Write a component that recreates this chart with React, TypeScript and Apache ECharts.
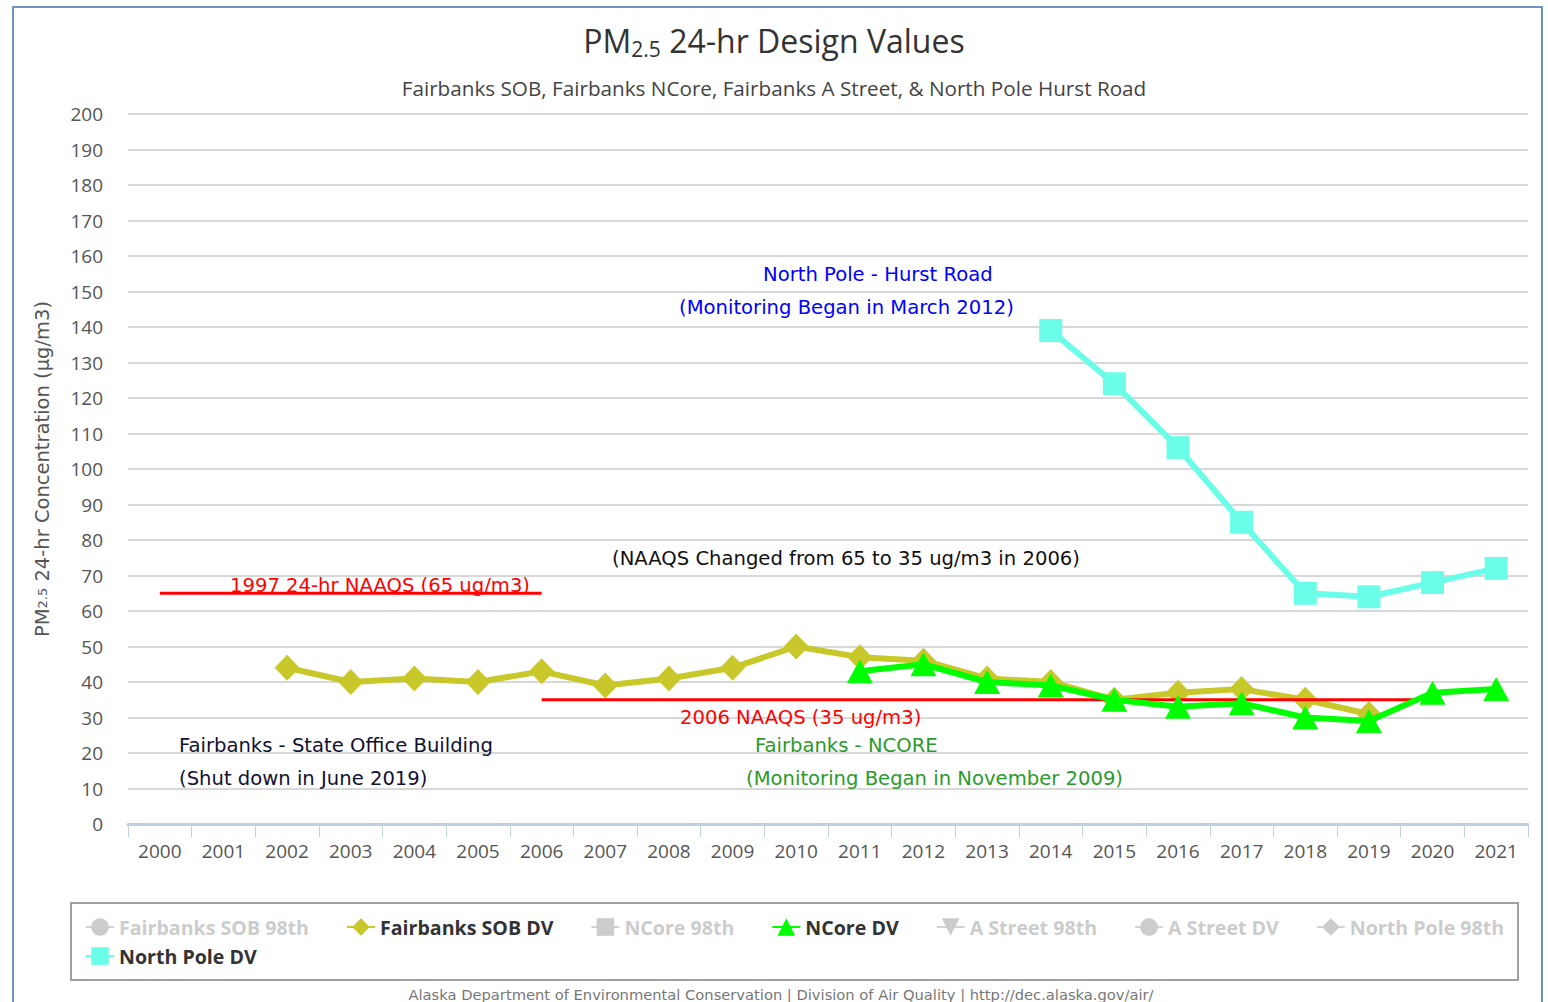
import React, { useEffect, useRef } from "react";
import * as echarts from "echarts";

const years = ["2000","2001","2002","2003","2004","2005","2006","2007","2008","2009","2010","2011","2012","2013","2014","2015","2016","2017","2018","2019","2020","2021"];
const yTicks = [0, 200, 10];

const sobDV = [null, null, 44, 40, 41, 40, 43, 39, 41, 44, 50, 47, 46, 41, 40, 35, 37, 38, 35, 31, null, null];
const ncoreDV = [null, null, null, null, null, null, null, null, null, null, null, 43, 45, 40, 39, 35, 33, 34, 30, 29, 37, 38];
const northPoleDV = [null, null, null, null, null, null, null, null, null, null, null, null, null, null, 139, 124, 106, 85, 65, 64, 68, 72];
const naaqs1997 = [65, 65, 65, 65, 65, 65, 65, null, null, null, null, null, null, null, null, null, null, null, null, null, null, null];
const naaqs2006 = [null, null, null, null, null, null, 35, 35, 35, 35, 35, 35, 35, 35, 35, 35, 35, 35, 35, 35, 35, null];

const legendRow1 = ["Fairbanks SOB 98th", "Fairbanks SOB DV", "NCore 98th", "NCore DV", "A Street 98th", "A Street DV", "North Pole 98th"];
const legendRow2 = ["North Pole DV"];

const FONT = "'Open Sans', sans-serif";
const AFONT = "'DejaVu Sans', sans-serif";

export default function App() {
  const ref = useRef<HTMLDivElement>(null);
  useEffect(() => {
    if (!ref.current) return;
    const chart = echarts.init(ref.current, null, { renderer: "svg" });
    const hidden = (name: string, symbol: string, color: string) => ({
      name, type: "line", data: [], symbol, symbolSize: 18, color,
      lineStyle: { width: 4, color },
    });
    const ann = (x: number, yy: number, text: string, fill: string) => ({
      type: "text", x, y: yy, z: 10,
      style: { text, fill, font: `19.6px ${AFONT}`, textVerticalAlign: "middle" },
    });
    const option: any = {
      animation: false,
      backgroundColor: "#ffffff",
      textStyle: { fontFamily: FONT },
      title: [
        {
          text: "PM{sub|2.5} 24-hr Design Values",
          left: "center", top: 17,
          textStyle: {
            fontFamily: FONT, fontSize: 32, fontWeight: "normal", color: "#333333",
            rich: { sub: { fontFamily: FONT, fontSize: 21, color: "#333333", padding: [16, 0, 0, 0] } },
          },
        },
        {
          text: "Fairbanks SOB, Fairbanks NCore, Fairbanks A Street, & North Pole Hurst Road",
          left: "center", top: 72,
          textStyle: { fontFamily: FONT, fontSize: 20.7, fontWeight: "normal", color: "#444444" },
        },
      ],
      grid: { left: 128, right: 20, top: 114, bottom: 178, containLabel: false },
      legend: [
        {
          data: legendRow1, left: 80, top: 912, orient: "horizontal", itemGap: 37,
          itemWidth: 28, itemHeight: 22, inactiveColor: "#cccccc",
          textStyle: { fontFamily: FONT, fontSize: 19.6, fontWeight: "bold", color: "#333333" },
          selected: { "Fairbanks SOB 98th": false, "NCore 98th": false, "A Street 98th": false, "A Street DV": false, "North Pole 98th": false },
        },
        {
          data: legendRow2, left: 80, top: 941, orient: "horizontal",
          itemWidth: 28, itemHeight: 22, inactiveColor: "#cccccc",
          textStyle: { fontFamily: FONT, fontSize: 19.6, fontWeight: "bold", color: "#333333" },
        },
      ],
      xAxis: {
        type: "category", data: years, boundaryGap: true,
        axisLine: { lineStyle: { color: "#c0d0e0", width: 3 } },
        axisTick: { show: true, interval: 0, length: 13, lineStyle: { color: "#c0d0e0", width: 1 } },
        axisLabel: { fontFamily: FONT, fontSize: 19, color: "#555555", margin: 17, interval: 0 },
        splitLine: { show: false },
      },
      yAxis: {
        type: "value", min: yTicks[0], max: yTicks[1], interval: yTicks[2],
        name: "PM{sub|2.5} 24-hr Concentration (µg/m3)",
        nameLocation: "middle", nameGap: 76, nameRotate: 90,
        nameTextStyle: {
          fontFamily: AFONT, fontSize: 19.5, color: "#555555",
          rich: { sub: { fontFamily: AFONT, fontSize: 13, color: "#555555" } },
        },
        axisLine: { show: false }, axisTick: { show: false },
        axisLabel: { fontFamily: FONT, fontSize: 19, color: "#555555", margin: 25 },
        splitLine: { lineStyle: { color: "#d8d8d8", width: 2 } },
      },
      series: [
        hidden("Fairbanks SOB 98th", "circle", "#cccccc"),
        {
          name: "Fairbanks SOB DV", type: "line", data: sobDV, symbol: "diamond", symbolSize: [25, 26],
          color: "#c8c82a", lineStyle: { width: 6, color: "#c8c82a" }, itemStyle: { color: "#c8c82a" }, z: 3,
        },
        {
          name: "NAAQS 1997", type: "line", data: naaqs1997, symbol: "none", color: "#ff0000",
          lineStyle: { width: 3, color: "#ff0000" }, z: 4, silent: true,
        },
        {
          name: "NAAQS 2006", type: "line", data: naaqs2006, symbol: "none", color: "#ff0000",
          lineStyle: { width: 3, color: "#ff0000" }, z: 4, silent: true,
        },
        hidden("NCore 98th", "rect", "#cccccc"),
        {
          name: "NCore DV", type: "line", data: ncoreDV, symbol: "triangle", symbolSize: [26, 24],
          color: "#00ff00", lineStyle: { width: 6, color: "#00ff00" }, itemStyle: { color: "#00ff00" }, z: 5,
        },
        hidden("A Street 98th", "path://M0,0 L10,0 L5,10 Z", "#cccccc"),
        hidden("A Street DV", "circle", "#cccccc"),
        hidden("North Pole 98th", "diamond", "#cccccc"),
        {
          name: "North Pole DV", type: "line", data: northPoleDV, symbol: "rect", symbolSize: 23,
          color: "#6afde8", lineStyle: { width: 6, color: "#6afde8" }, itemStyle: { color: "#6afde8" }, z: 6,
        },
      ],
      graphic: [
        { type: "rect", shape: { x: 13, y: 7, width: 1529, height: 1010 }, style: { fill: "none", stroke: "#7193c4", lineWidth: 2 }, silent: true, z: -10 },
        { type: "rect", shape: { x: 71, y: 903, width: 1447, height: 77 }, style: { fill: "none", stroke: "#a0a0a0", lineWidth: 2 }, silent: true },
        ann(230, 585, "1997 24-hr NAAQS (65 ug/m3)", "#ff0000"),
        ann(612, 558, "(NAAQS Changed from 65 to 35 ug/m3 in 2006)", "#111111"),
        ann(763, 274, "North Pole - Hurst Road", "#0000ff"),
        ann(679, 307, "(Monitoring Began in March 2012)", "#0000ff"),
        ann(680, 717, "2006 NAAQS (35 ug/m3)", "#ff0000"),
        ann(755, 745, "Fairbanks - NCORE", "#2a9a2a"),
        ann(746, 778, "(Monitoring Began in November 2009)", "#2a9a2a"),
        ann(179, 745, "Fairbanks - State Office Building", "#111133"),
        ann(179, 778, "(Shut down in June 2019)", "#111133"),
        { type: "text", x: 781, y: 994, z: 10, style: { text: "Alaska Department of Environmental Conservation | Division of Air Quality | http://dec.alaska.gov/air/", fill: "#777777", font: `14.7px ${AFONT}`, textAlign: "center", textVerticalAlign: "middle" } },
      ],
    };
    chart.setOption(option);
    return () => chart.dispose();
  }, []);
  return <div ref={ref} style={{ position: "fixed", left: 0, top: 0, width: 1548, height: 1002 }} />;
}
